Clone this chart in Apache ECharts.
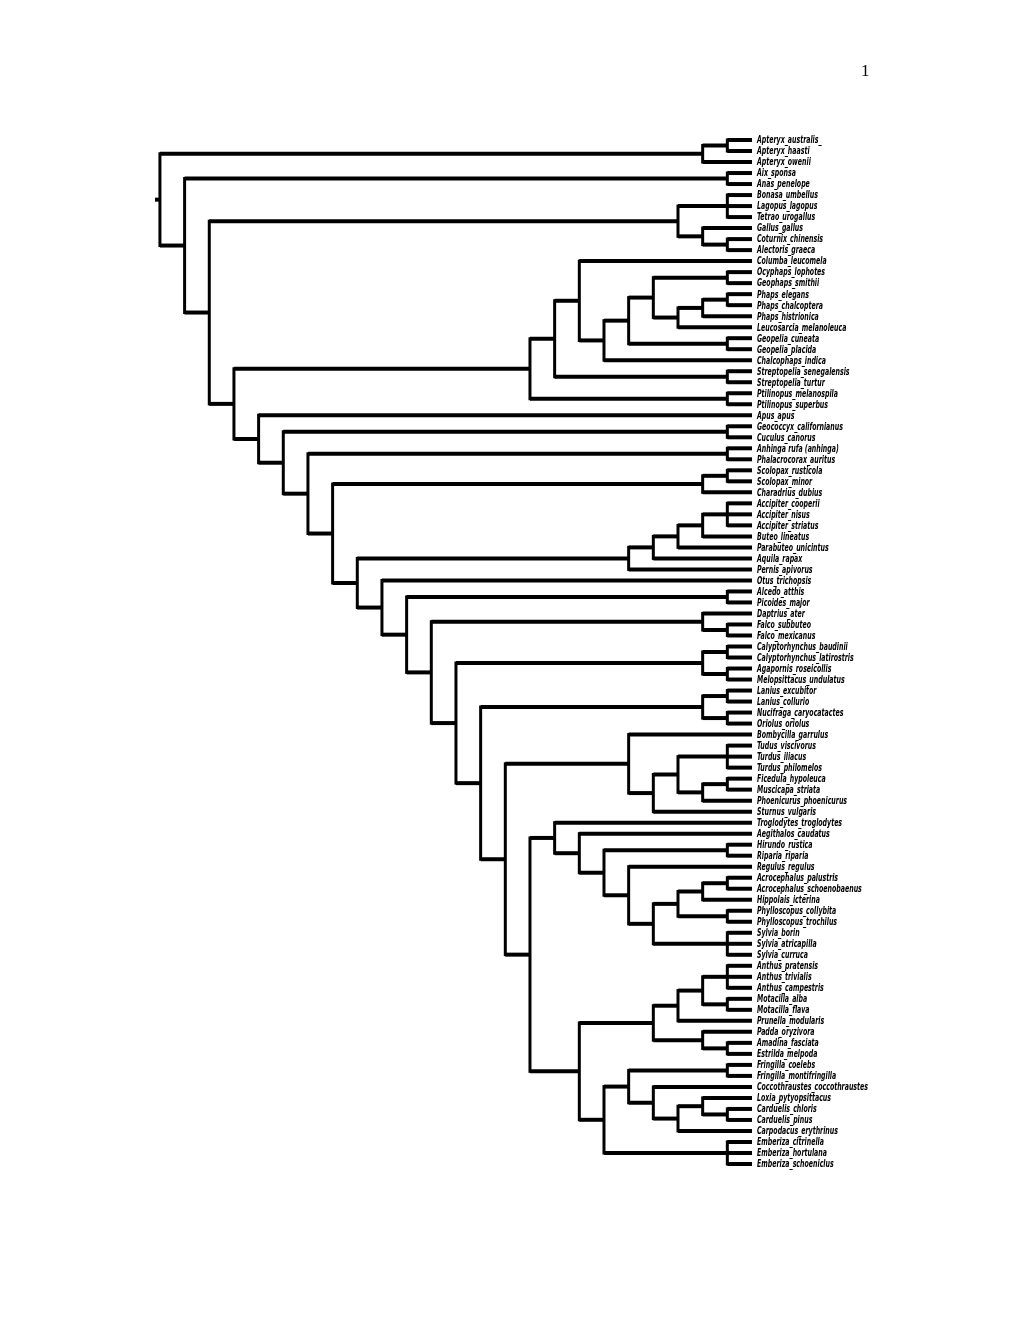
<!DOCTYPE html>
<html><head><meta charset="utf-8">
<script src="https://cdn.jsdelivr.net/npm/echarts@6/dist/echarts.min.js"></script>
<style>html,body{margin:0;padding:0;background:#fff}#c{width:1020px;height:1320px}</style>
</head><body><div id="c"></div>
<script>
// ---- tip labels, top to bottom ----
const tips = [
 "Apteryx_australis_","Apteryx_haasti","Apteryx_owenii","Aix_sponsa","Anas_penelope",
 "Bonasa_umbellus","Lagopus_lagopus","Tetrao_urogallus","Gallus_gallus","Coturnix_chinensis",
 "Alectoris_graeca","Columba_leucomela","Ocyphaps_lophotes","Geophaps_smithii","Phaps_elegans",
 "Phaps_chalcoptera","Phaps_histrionica","Leucosarcia_melanoleuca","Geopelia_cuneata","Geopelia_placida",
 "Chalcophaps_indica","Streptopelia_senegalensis","Streptopelia_turtur","Ptilinopus_melanospila","Ptilinopus_superbus",
 "Apus_apus","Geococcyx_californianus","Cuculus_canorus","Anhinga rufa (anhinga)","Phalacrocorax_auritus",
 "Scolopax_rusticola","Scolopax_minor","Charadrius_dubius","Accipiter_cooperii","Accipiter_nisus",
 "Accipiter_striatus","Buteo_lineatus","Parabuteo_unicintus","Aquila_rapax","Pernis_apivorus",
 "Otus_trichopsis","Alcedo_atthis","Picoides_major","Daptrius_ater","Falco_subbuteo",
 "Falco_mexicanus","Calyptorhynchus_baudinii","Calyptorhynchus_latirostris","Agapornis_roseicollis","Melopsittacus_undulatus",
 "Lanius_excubitor","Lanius_collurio","Nucifraga_caryocatactes","Oriolus_oriolus","Bombycilla_garrulus",
 "Tudus_viscivorus","Turdus_iliacus","Turdus_philomelos","Ficedula_hypoleuca","Muscicapa_striata",
 "Phoenicurus_phoenicurus","Sturnus_vulgaris","Troglodytes_troglodytes","Aegithalos_caudatus","Hirundo_rustica",
 "Riparia_riparia","Regulus_regulus","Acrocephalus_palustris","Acrocephalus_schoenobaenus","Hippolais_icterina",
 "Phylloscopus_collybita","Phylloscopus_trochilus","Sylvia_borin","Sylvia_atricapilla","Sylvia_curruca",
 "Anthus_pratensis","Anthus_trivialis","Anthus_campestris","Motacilla_alba","Motacilla_flava",
 "Prunella_modularis","Padda_oryzivora","Amadina_fasciata","Estrilda_melpoda","Fringilla_coelebs",
 "Fringilla_montifringilla","Coccothraustes_coccothraustes","Loxia_pytyopsittacus","Carduelis_chloris","Carduelis_pinus",
 "Carpodacus_erythrinus","Emberiza_citrinella","Emberiza_hortulana","Emberiza_schoeniclus"
];
// ---- clades (nested lists of tip indices) ----
const apteryx   = [[0,1],2];
const anseres   = [3,4];
const galli     = [[5,6,7],[8,[9,10]]];
const columbae  = [[[11,[[[[12,13],[[[14,15],16],17]],[18,19]],20]],[21,22]],[23,24]];
const cuculi    = [26,27];
const suli      = [28,29];
const charadrii = [[30,31],32];
const accipitr  = [[[[[33,34,35],36],37],38],39];
const coracii   = [41,42];
const falcones  = [43,[44,45]];
const psittaci  = [[46,47],[48,49]];
const corvoidea = [[50,51],[52,53]];
const muscicap  = [54,[[[55,56,57],[[58,59],60]],61]];
const sylvioid  = [62,[63,[[64,65],[66,[[[[67,68],69],[70,71]],[72,73,74]]]]]];
const passeroid = [[[[[75,76,77],[78,79]],80],[81,[82,83]]],[[[84,85],[86,[[87,[88,89]],90]]],[91,92,93]]];
const neoaves =
  [columbae,[25,[cuculi,[suli,[charadrii,[accipitr,[40,[coracii,[falcones,[psittaci,
   [corvoidea,[muscicap,[sylvioid,passeroid]]]]]]]]]]]]];
const tree = [apteryx,[anseres,[galli,neoaves]]];
const pageNumber = "1";

// ---- cladogram layout in data units (x = level, y = tip index) ----
function height(n){ return typeof n === 'number' ? 0 : 1 + Math.max(...n.map(height)); }
const H = height(tree);
const segs = [];
function lay(n){
  if (typeof n === 'number') return {x: H, y: n};
  const ch = n.map(lay);
  const x = H - height(n);
  const y = (ch[0].y + ch[ch.length-1].y) / 2;
  segs.push([x, ch[0].y, x, ch[ch.length-1].y, 1]);
  ch.forEach(c => segs.push([x, c.y, c.x, c.y, 0]));
  return {x, y};
}
const rootPos = lay(tree);
segs.push([-0.2, rootPos.y, 0, rootPos.y, 0]);

// label font & horizontal compression
const labelFont = 'italic bold 11px "Liberation Sans Narrow", "Arial Narrow", "DejaVu Sans Condensed", sans-serif';
const mctx = document.createElement('canvas').getContext('2d');
mctx.font = labelFont;
const labelScale = 111 / mctx.measureText('Coccothraustes_coccothraustes').width;

const chart = echarts.init(document.getElementById('c'), null, {renderer:'canvas'});
chart.setOption({
  animation: false,
  backgroundColor: '#fff',
  grid: {left: 155, right: 268, top: 140, bottom: 156},
  xAxis: {type:'value', min:-0.2, max:H, show:false},
  yAxis: {type:'value', min:0, max:tips.length-1, inverse:true, show:false},
  graphic: [{type:'text', left: 861, top: 63,
    style:{text: pageNumber, font: '17px "Liberation Serif", "Times New Roman", serif', fill:'#000'}}],
  series: [
    {
      type:'custom', coordinateSystem:'cartesian2d',
      encode:{x:[0,2], y:[1,3]},
      data: segs,
      renderItem(params, api){
        const a = api.coord([api.value(0), api.value(1)]);
        const b = api.coord([api.value(2), api.value(3)]);
        const v = api.value(4) === 1;
        return {type:'line', shape:{x1:a[0], y1:a[1], x2:b[0], y2:b[1]},
          style:{stroke:'#000', lineWidth: v ? 3 : 4, lineCap: v ? 'square' : 'butt'}};
      }
    },
    {
      type:'custom', coordinateSystem:'cartesian2d',
      encode:{x:0, y:1},
      data: tips.map((t,i) => [H, i]),
      renderItem(params, api){
        const p = api.coord([api.value(0), api.value(1)]);
        return {type:'text', x: p[0] + 5, y: p[1] + 0.5, scaleX: labelScale,
          style:{text: tips[params.dataIndex], font: labelFont, fill:'#000',
                 align:'left', verticalAlign:'middle'}};
      }
    }
  ]
});
</script></body></html>
